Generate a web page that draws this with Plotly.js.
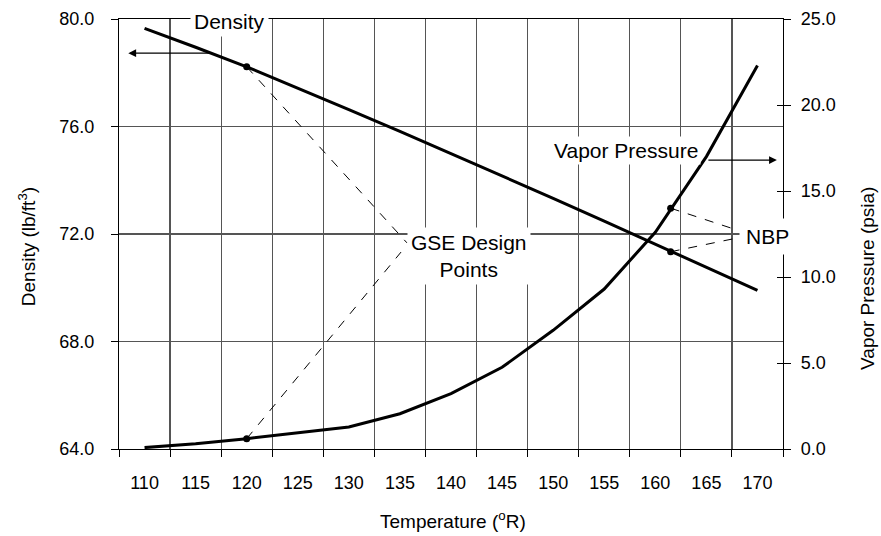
<!DOCTYPE html>
<html>
<head>
<meta charset="utf-8">
<script src="https://cdn.plot.ly/plotly-3.0.1.min.js"></script>
<style>html,body{margin:0;padding:0;background:#fff;}#chart{width:881px;height:536px;}</style>
</head>
<body>
<div id="chart"></div>
<script>
// Data
const temperature = [110, 115, 120, 125, 130, 135, 140, 145, 150, 155, 160, 165, 170];
const density = [79.65, 78.95, 78.22, 77.43, 76.63, 75.82, 75.0, 74.17, 73.33, 72.48, 71.62, 70.75, 69.9];
const vaporPressure = [0.08, 0.3, 0.6, 0.92, 1.28, 2.05, 3.22, 4.75, 6.9, 9.3, 12.6, 17.0, 22.3];
const designT = [120];
const designDensity = [78.22];
const designVP = [0.6];
const nbpT = [161.5];
const nbpDensity = [71.34];
const nbpVP = [14.0];
const xTickLabels = ['110','115','120','125','130','135','140','145','150','155','160','165','170'];

const FONT = 'Liberation Sans, Arial, sans-serif';
const GRID = '#555555';

// category-style tick marks / gridlines between the labels
const step = 5;
const xTickVals = [];
for (let i = 0; i <= temperature.length; i++) {
  xTickVals.push(temperature[0] - step / 2 + i * step);
}
const xRange = [xTickVals[0], xTickVals[xTickVals.length - 1]];

const traces = [
  {x: temperature, y: density, type: 'scatter', mode: 'lines', line: {color: '#000', width: 3}, yaxis: 'y', hoverinfo: 'skip'},
  {x: temperature, y: vaporPressure, type: 'scatter', mode: 'lines', line: {color: '#000', width: 3}, yaxis: 'y2', hoverinfo: 'skip'},
  {x: designT.concat(nbpT), y: designDensity.concat(nbpDensity), type: 'scatter', mode: 'markers', marker: {color: '#000', size: 7}, yaxis: 'y'},
  {x: designT.concat(nbpT), y: designVP.concat(nbpVP), type: 'scatter', mode: 'markers', marker: {color: '#000', size: 7}, yaxis: 'y2'},
  {x: [temperature[0]], y: [null], type: 'scatter', mode: 'lines', yaxis: 'y3', hoverinfo: 'skip'},
  {x: [temperature[0]], y: [null], type: 'scatter', mode: 'lines', xaxis: 'x2', yaxis: 'y', hoverinfo: 'skip'}
];

const annFont = {family: FONT, size: 21, color: '#000'};
const dash = {color: '#000', width: 1, dash: 'dash'};

const layout = {
  width: 881, height: 536,
  margin: {l: 119, r: 98, t: 19, b: 87},
  paper_bgcolor: '#fff', plot_bgcolor: '#fff',
  showlegend: false,
  font: {family: FONT, size: 18, color: '#000'},
  xaxis: {
    range: xRange, tickmode: 'array', tickvals: xTickVals, showticklabels: false,
    ticks: 'outside', ticklen: 7, tickcolor: '#000', tickwidth: 1,
    showgrid: true, gridcolor: GRID, gridwidth: 1.2,
    showline: true, linecolor: '#000', linewidth: 1.2, mirror: true,
    zeroline: false
  },
  xaxis2: {
    range: xRange, overlaying: 'x', anchor: 'y', side: 'bottom',
    tickmode: 'array', tickvals: temperature, ticktext: xTickLabels,
    ticks: 'outside', ticklen: 7, tickcolor: 'rgba(0,0,0,0)', ticklabelstandoff: 10,
    showgrid: false, showline: false, zeroline: false,
    tickfont: {family: FONT, size: 18, color: '#000'}
  },
  yaxis: {
    range: [64, 80], dtick: 4, tick0: 64, tickformat: '.1f',
    ticks: 'outside', ticklen: 7, tickcolor: '#000', tickwidth: 1,
    showgrid: true, gridcolor: GRID, gridwidth: 1.2,
    showline: true, linecolor: '#000', linewidth: 1.2,
    zeroline: false, ticklabelstandoff: 13,
    tickfont: {family: FONT, size: 18, color: '#000'}
  },
  yaxis2: {
    range: [0, 25], dtick: 5, tick0: 0, tickformat: '.1f', overlaying: 'y', side: 'right',
    ticks: 'outside', ticklen: 7, tickcolor: '#000', tickwidth: 1,
    showgrid: false, showline: true, linecolor: '#000', linewidth: 1.2,
    zeroline: false, ticklabelstandoff: 6,
    tickfont: {family: FONT, size: 18, color: '#000'}
  },
  yaxis3: {
    range: [0, 25], dtick: 5, tick0: 0, overlaying: 'y', side: 'right',
    ticks: 'inside', ticklen: 6, tickcolor: '#000', tickwidth: 1,
    showticklabels: false, showgrid: false, showline: false, zeroline: false
  },
  shapes: [
    {type: 'line', xref: 'x', yref: 'y', x0: designT[0], y0: designDensity[0], x1: 135.69, y1: 71.67, line: dash},
    {type: 'line', xref: 'x', yref: 'y2', x0: designT[0], y0: designVP[0], x1: 135.11, y1: 11.45, line: dash},
    {type: 'line', xref: 'x', yref: 'y2', x0: nbpT[0], y0: nbpVP[0], x1: 168.0, y1: 12.73, line: dash},
    {type: 'line', xref: 'x', yref: 'y', x0: nbpT[0], y0: nbpDensity[0], x1: 168.0, y1: 71.85, line: dash}
  ],
  annotations: [
    {xref: 'x', yref: 'y', x: 118.27, y: 79.89, xanchor: 'center', yanchor: 'middle', text: 'Density', showarrow: false, font: annFont, bgcolor: '#fff', borderpad: 3},
    {xref: 'x', yref: 'y', x: 108.41, y: 78.73, axref: 'x', ayref: 'y', ax: 116.6, ay: 78.73, text: '', showarrow: true, arrowhead: 2, arrowsize: 1.2, arrowwidth: 1.3, arrowcolor: '#000'},
    {xref: 'x', yref: 'y', x: 157.13, y: 75.09, xanchor: 'center', yanchor: 'middle', text: 'Vapor Pressure', showarrow: false, font: annFont, bgcolor: '#fff', borderpad: 2},
    {xref: 'x', yref: 'y', x: 171.9, y: 74.75, axref: 'x', ayref: 'y', ax: 165.05, ay: 74.75, text: '', showarrow: true, arrowhead: 2, arrowsize: 1.2, arrowwidth: 1.3, arrowcolor: '#000'},
    {xref: 'x', yref: 'y', x: 141.76, y: 71.18, xanchor: 'center', yanchor: 'middle', text: 'GSE Design<br>Points', showarrow: false, font: annFont, bgcolor: '#fff', borderpad: 3},
    {xref: 'x', yref: 'y', x: 170.94, y: 71.89, xanchor: 'center', yanchor: 'middle', text: 'NBP', showarrow: false, font: annFont, bgcolor: '#fff', borderpad: 6},
    {xref: 'paper', yref: 'paper', x: -0.1385, y: 0.4694, xanchor: 'center', yanchor: 'middle', text: 'Density (lb/ft<sup>3</sup>)', textangle: -90, showarrow: false, font: {family: FONT, size: 19, color: '#000'}},
    {xref: 'paper', yref: 'paper', x: 1.1275, y: 0.397, xanchor: 'center', yanchor: 'middle', text: 'Vapor Pressure (psia)', textangle: -90, showarrow: false, font: {family: FONT, size: 19, color: '#000'}},
    {xref: 'paper', yref: 'paper', x: 0.5028, y: -0.165, xanchor: 'center', yanchor: 'middle', text: 'Temperature (<sup>o</sup>R)', showarrow: false, font: {family: FONT, size: 19, color: '#000'}}
  ]
};

Plotly.newPlot('chart', traces, layout, {staticPlot: true, displayModeBar: false});
</script>
</body>
</html>
